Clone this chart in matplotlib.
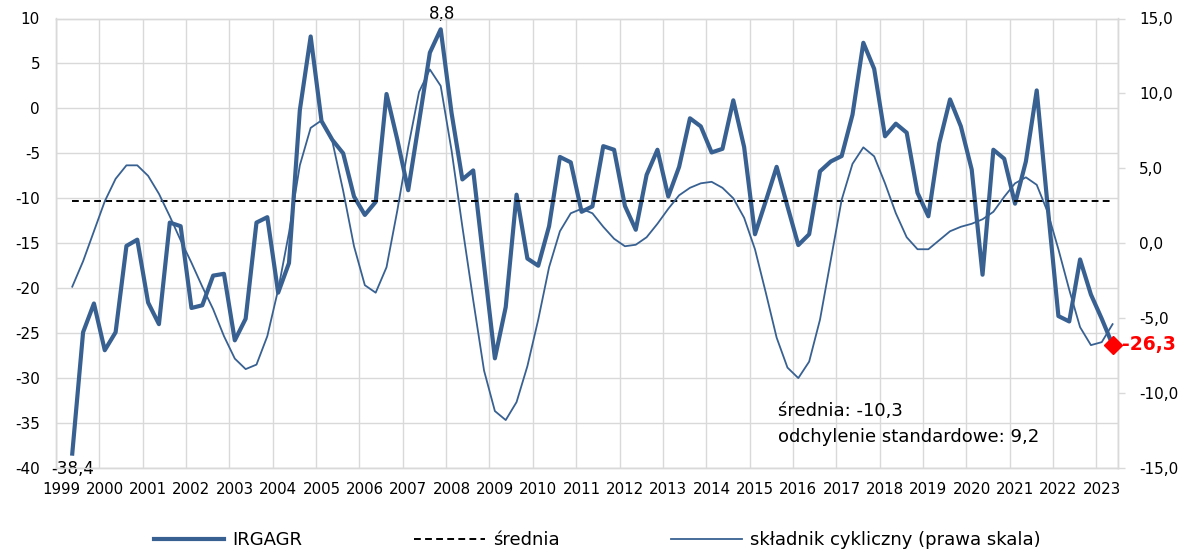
import matplotlib
matplotlib.use("Agg")
import matplotlib.pyplot as plt
import numpy as np

# ---------------- data (quarterly, 1999Q2 - 2023Q2) ----------------
years = list(range(1999, 2024))

irgagr = [
    -38.4, -24.9, -21.7,
    -26.9, -24.9, -15.3, -14.6,
    -21.6, -24.0, -12.7, -13.1,
    -22.2, -21.9, -18.6, -18.4,
    -25.8, -23.4, -12.7, -12.1,
    -20.5, -17.2, -0.2, 8.0,
    -1.4, -3.5, -5.0, -9.8,
    -11.85, -10.4, 1.6, -3.5,
    -9.1, -1.5, 6.2, 8.8,
    -0.5, -7.9, -6.9, -17.4,
    -27.8, -22.1, -9.6, -16.7,
    -17.5, -13.1, -5.4, -6.0,
    -11.5, -10.9, -4.2, -4.6,
    -10.85, -13.5, -7.4, -4.6,
    -9.8, -6.5, -1.1, -2.0,
    -4.9, -4.5, 0.9, -4.3,
    -14.0, -10.3, -6.5, -10.9,
    -15.2, -14.0, -7.0, -5.9,
    -5.3, -0.7, 7.3, 4.4,
    -3.1, -1.7, -2.7, -9.4,
    -12.0, -3.9, 1.0, -2.0,
    -6.8, -18.5, -4.6, -5.6,
    -10.6, -5.9, 2.0, -10.8,
    -23.1, -23.7, -16.8, -20.7,
    -23.4, -26.3,
]

cyclic = [
    -2.9, -1.2, 0.8,
    2.8, 4.3, 5.2, 5.2,
    4.5, 3.3, 1.8, 0.2,
    -1.3, -2.9, -4.4, -6.2,
    -7.7, -8.4, -8.1, -6.2,
    -3.1, 0.7, 5.2, 7.7,
    8.2, 6.8, 3.5, -0.2,
    -2.8, -3.3, -1.6, 2.2,
    6.4, 10.1, 11.6, 10.5,
    6.2, 1.1, -3.8, -8.5,
    -11.2, -11.8, -10.6, -8.2,
    -5.1, -1.6, 0.8, 2.0,
    2.3, 2.0, 1.1, 0.3,
    -0.2, -0.1, 0.4, 1.3,
    2.3, 3.2, 3.7, 4.0,
    4.1, 3.7, 3.0, 1.7,
    -0.4, -3.3, -6.3, -8.3,
    -9.0, -7.9, -5.1, -1.1,
    2.9, 5.3, 6.4, 5.8,
    4.0, 2.0, 0.4, -0.4,
    -0.4, 0.2, 0.8, 1.1,
    1.3, 1.6, 2.1, 3.1,
    4.0, 4.4, 3.9, 2.1,
    -0.4, -3.1, -5.6, -6.8,
    -6.6, -5.4,
]

mean_value = -10.3
std_value = 9.2

left_ticks = list(range(-40, 11, 5))
right_ticks = list(range(-15, 16, 5))

# ---------------- style ----------------
BLUE = "#386192"
GRID = "#D9D9D9"
plt.rcParams["font.family"] = ["DejaVu Sans"]

def fmt_int(v):
    return str(v)

def fmt_pl(v, d=1):
    return f"{v:.{d}f}".replace(".", ",")

fig = plt.figure(figsize=(11.89, 5.52), dpi=100)
W, H = 1189, 552
ax = fig.add_axes([56 / W, 1 - 468 / H, (1118 - 56) / W, (468 - 18.5) / H])
ax2 = ax.twinx()

n = len(irgagr)
x = np.arange(1, n + 1)

# lines
l_main, = ax.plot(x, irgagr, color=BLUE, lw=3.0, solid_joinstyle="round", zorder=3)
l_mean, = ax.plot(x, [mean_value] * n, color="black", lw=1.4,
                  linestyle=(0, (3.5, 2.2)), zorder=4)
l_cyc, = ax2.plot(x, cyclic, color=BLUE, lw=1.3, zorder=3)

# limits
ax.set_xlim(-0.5, n + 0.5)
ax.set_ylim(-40, 10)
ax2.set_ylim(-15, 15)

# y ticks
ax.set_yticks(left_ticks)
ax.set_yticklabels([fmt_int(v) for v in left_ticks])
ax.tick_params(axis="y", length=0, pad=11.5, labelsize=11)
ax2.set_yticks(right_ticks)
ax2.set_yticklabels([fmt_pl(v) for v in right_ticks])
ax2.tick_params(axis="y", length=5, width=1.0, color=GRID, pad=10, labelsize=11)

# x ticks (labels at first quarter of each year)
ax.set_xticks([4 * i for i in range(len(years))])
ax.set_xticklabels([str(y) for y in years])
ax.set_xticks(list(np.arange(-0.5, n + 1, 4)) + [n + 0.5], minor=True)
ax.tick_params(axis="x", which="both", length=0, pad=10, labelsize=10.8)

# grid
ax.yaxis.grid(True, color=GRID, lw=1.0)
ax.xaxis.grid(True, which="minor", color=GRID, lw=1.0)
ax.xaxis.grid(False, which="major")
ax.set_axisbelow(True)
for a in (ax, ax2):
    for s in a.spines.values():
        s.set_color(GRID)
        s.set_linewidth(1.0)

# data labels
ax.annotate(fmt_pl(irgagr[0]), (x[0], irgagr[0]), xytext=(0, -11),
            textcoords="offset points", ha="center", va="center",
            fontsize=12, annotation_clip=False)
imax = int(np.argmax(irgagr))
ax.annotate(fmt_pl(irgagr[imax]), (x[imax], irgagr[imax]), xytext=(1, 11),
            textcoords="offset points", ha="center", va="center",
            fontsize=12, annotation_clip=False)

# last point marker + label (drawn on top axes, in left-axis coordinates)
ax2.plot([x[-1]], [irgagr[-1]], transform=ax.transData, marker="D",
         color="#FF0000", markersize=9.5, linestyle="none", zorder=10,
         clip_on=False)
ax2.annotate(fmt_pl(irgagr[-1]), (x[-1], irgagr[-1]), xycoords=ax.transData,
             xytext=(7, 0), textcoords="offset points", ha="left", va="center",
             fontsize=13.5, fontweight="bold", color="#FF0000",
             annotation_clip=False, zorder=10)

# stats text
fig.text(778 / W, 1 - 411 / H, f"średnia: {fmt_pl(mean_value)}",
         ha="left", va="center", fontsize=13)
fig.text(778 / W, 1 - 437 / H, f"odchylenie standardowe: {fmt_pl(std_value)}",
         ha="left", va="center", fontsize=13)

# legend
fig.legend(handles=[l_main, l_mean, l_cyc],
           labels=["IRGAGR", "średnia", "składnik cykliczny (prawa skala)"],
           loc="center", bbox_to_anchor=(597 / W, 12 / H), ncol=3,
           frameon=False, fontsize=13, handlelength=3.9, handletextpad=0.45,
           columnspacing=6.2)

fig.savefig("out.png", dpi=100)
